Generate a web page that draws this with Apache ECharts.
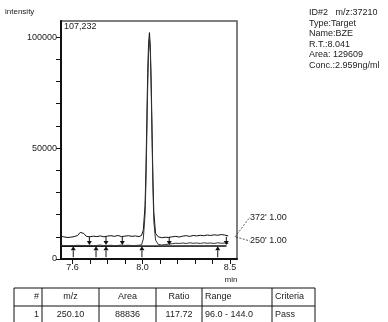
<!DOCTYPE html>
<html>
<head>
<meta charset="utf-8">
<script src="https://cdn.jsdelivr.net/npm/echarts@6/dist/echarts.min.js"></script>
<style>html,body{margin:0;padding:0;background:#fff;}#c{width:388px;height:322px;}</style>
</head>
<body>
<div id="c"></div>
<script>
// ---- data ----
const times = [7.535, 7.55, 7.57, 7.59, 7.61, 7.63, 7.645, 7.655, 7.665, 7.68, 7.70, 7.72, 7.74, 7.76, 7.78, 7.80, 7.82, 7.84, 7.86, 7.88, 7.90, 7.92, 7.94, 7.96, 7.98, 7.995, 8.005, 8.015, 8.02, 8.025, 8.03, 8.035, 8.04, 8.045, 8.05, 8.055, 8.06, 8.065, 8.075, 8.09, 8.11, 8.13, 8.15, 8.17, 8.19, 8.21, 8.23, 8.25, 8.27, 8.29, 8.31, 8.33, 8.35, 8.37, 8.39, 8.41, 8.43, 8.45, 8.47, 8.49];
const trace372 = [10200, 10000, 9700, 9800, 10100, 10600, 12000, 12700, 11500, 10200, 10000, 10300, 10100, 10400, 10000, 10300, 10500, 10200, 10600, 10100, 10300, 10500, 10200, 10400, 10100, 10600, 13000, 24000, 40000, 62000, 84000, 97000, 102000, 96000, 80000, 58000, 36000, 21000, 11500, 10000, 9600, 9800, 9700, 10000, 10200, 9900, 10300, 10500, 10200, 10600, 10400, 10700, 10500, 10800, 10600, 10900, 10700, 11000, 10800, 10400];
const trace250 = [6200, 6100, 6000, 6100, 6000, 6200, 6100, 6300, 6100, 6000, 6200, 6000, 6100, 6300, 6000, 6100, 6200, 6000, 6100, 6300, 6100, 6200, 6000, 6100, 6200, 6400, 9000, 20000, 34000, 55000, 77000, 93000, 99000, 93000, 76000, 53000, 32000, 17000, 8500, 6600, 6300, 6500, 6700, 6900, 7100, 7000, 7200, 7000, 7300, 7100, 7200, 7000, 7300, 7100, 7200, 7000, 7300, 7100, 7200, 7000];
const baselineTimes = [7.535, 8.48];
const baselineValues = [5800, 5900];
const upArrowTimes = [7.605, 7.735, 7.792, 7.997, 8.43];
const downArrowTimes = [7.697, 7.792, 7.885, 8.153, 8.479];
const xTickValues = [7.6, 7.7, 7.8, 7.9, 8.0, 8.1, 8.2, 8.3, 8.4, 8.5];
const xLabelValues = [7.6, 8.0, 8.5];
const yTickValues = [0, 10000, 20000, 30000, 40000, 50000, 60000, 70000, 80000, 90000, 100000];
const yLabelValues = [0, 50000, 100000];
const yMax = 107232;
const infoLines = ['ID#2   m/z:37210', 'Type:Target', 'Name:BZE', 'R.T.:8.041', 'Area: 129609', 'Conc.:2.959ng/ml'];
const traceLabels = ["372' 1.00", "250' 1.00"];
const tableHeader = ['#', 'm/z', 'Area', 'Ratio', 'Range', 'Criteria'];
const tableRow = ['1', '250.10', '88836', '117.72', '96.0 - 144.0', 'Pass'];

// ---- chart ----
const FONT = 'Liberation Sans, Arial, sans-serif';
const TXT = '#222';
const chart = echarts.init(document.getElementById('c'), null, {renderer: 'canvas'});

function zip(xs, ys) { return xs.map((x, i) => [x, ys[i]]); }

function arrowItem(params, api) {
  const tip = api.coord([api.value(0), api.value(1)]);
  const tail = api.coord([api.value(0), api.value(2)]);
  const dir = tip[1] < tail[1] ? -1 : 1;
  const hl = 4, hw = 2.5;
  return {
    type: 'group',
    children: [
      {type: 'line', shape: {x1: tail[0], y1: tail[1], x2: tip[0], y2: tip[1] - dir * hl}, style: {stroke: '#111', lineWidth: 1}},
      {type: 'polygon', shape: {points: [[tip[0], tip[1]], [tip[0] - hw, tip[1] - dir * hl], [tip[0] + hw, tip[1] - dir * hl]]}, style: {fill: '#111'}}
    ]
  };
}

const colX = [14, 42, 99, 156, 202, 272, 315];
const rowY = [288, 306, 324];
const tableGraphics = [];
tableGraphics.push({type: 'rect', shape: {x: colX[0], y: rowY[0], width: colX[6] - colX[0], height: rowY[2] - rowY[0]}, style: {fill: 'none', stroke: '#111', lineWidth: 1}});
tableGraphics.push({type: 'line', shape: {x1: colX[0], y1: rowY[1], x2: colX[6], y2: rowY[1]}, style: {stroke: '#111', lineWidth: 1}});
for (let i = 1; i < 6; i++) {
  tableGraphics.push({type: 'line', shape: {x1: colX[i], y1: rowY[0], x2: colX[i], y2: rowY[2]}, style: {stroke: '#111', lineWidth: 1}});
}
const aligns = ['right', 'center', 'center', 'center', 'left', 'left'];
[tableHeader, tableRow].forEach((row, r) => {
  row.forEach((txt, i) => {
    let x;
    if (aligns[i] === 'right') x = colX[i + 1] - 3;
    else if (aligns[i] === 'center') x = (colX[i] + colX[i + 1]) / 2;
    else x = colX[i] + 3;
    tableGraphics.push({type: 'text', x: x, y: (rowY[r] + rowY[r + 1]) / 2, style: {text: txt, font: '9px ' + FONT, fill: TXT, align: aligns[i], verticalAlign: 'middle'}});
  });
});

const infoGraphics = infoLines.map((t, i) => ({type: 'text', x: 309, y: 13 + i * 10.5, style: {text: t, font: '9px ' + FONT, fill: TXT, verticalAlign: 'middle'}}));

chart.setOption({
  animation: false,
  backgroundColor: '#fff',
  grid: {left: 61, top: 21, width: 176, height: 238, show: true, borderColor: '#555', borderWidth: 1.5, backgroundColor: 'transparent'},
  xAxis: {
    type: 'value', min: 7.535, max: 8.54,
    axisLine: {show: true, lineStyle: {color: '#111', width: 2}},
    axisTick: {show: true, length: 5, inside: false, customValues: xTickValues, lineStyle: {color: '#111', width: 1}},
    axisLabel: {customValues: xLabelValues, formatter: v => v.toFixed(1), color: TXT, fontSize: 9, fontFamily: FONT, margin: 4},
    splitLine: {show: false}
  },
  yAxis: {
    type: 'value', min: 0, max: yMax,
    axisLine: {show: true, lineStyle: {color: '#111', width: 2}},
    axisTick: {show: true, length: 5, inside: false, customValues: yTickValues, lineStyle: {color: '#111', width: 1}},
    axisLabel: {customValues: yLabelValues, formatter: v => String(Math.round(v)), color: TXT, fontSize: 9, fontFamily: FONT, margin: 4},
    splitLine: {show: false}
  },
  series: [
    {type: 'line', data: zip(baselineTimes, baselineValues), symbol: 'none', lineStyle: {color: '#111', width: 1.5}, z: 3},
    {type: 'line', data: zip(times, trace372), symbol: 'none', lineStyle: {color: '#111', width: 1}, z: 4},
    {type: 'line', data: zip(times, trace250), symbol: 'none', lineStyle: {color: '#333', width: 1}, z: 4},
    {type: 'custom', renderItem: arrowItem, data: upArrowTimes.map(t => [t, 5700, 800]), z: 5},
    {type: 'custom', renderItem: arrowItem, data: downArrowTimes.map(t => [t, 6300, 10000]), z: 5}
  ],
  graphic: [
    {type: 'text', x: 5, y: 12, style: {text: 'intensity', font: '8px ' + FONT, fill: TXT, verticalAlign: 'middle'}},
    {type: 'text', x: 64, y: 27, style: {text: '107,232', font: '9px ' + FONT, fill: TXT, verticalAlign: 'middle'}},
    {type: 'text', x: 231, y: 280, style: {text: 'min', font: '8px ' + FONT, fill: TXT, align: 'center', verticalAlign: 'middle'}},
    {type: 'line', shape: {x1: 235, y1: 237, x2: 250, y2: 217}, style: {stroke: '#333', lineWidth: 0.8, lineDash: [2, 1.5]}},
    {type: 'line', shape: {x1: 236, y1: 237, x2: 250, y2: 241}, style: {stroke: '#333', lineWidth: 0.8, lineDash: [2, 1.5]}},
    {type: 'text', x: 250, y: 218, style: {text: traceLabels[0], font: '9px ' + FONT, fill: TXT, verticalAlign: 'middle'}},
    {type: 'text', x: 250, y: 241, style: {text: traceLabels[1], font: '9px ' + FONT, fill: TXT, verticalAlign: 'middle'}}
  ].concat(infoGraphics, tableGraphics)
});
</script>
</body>
</html>
